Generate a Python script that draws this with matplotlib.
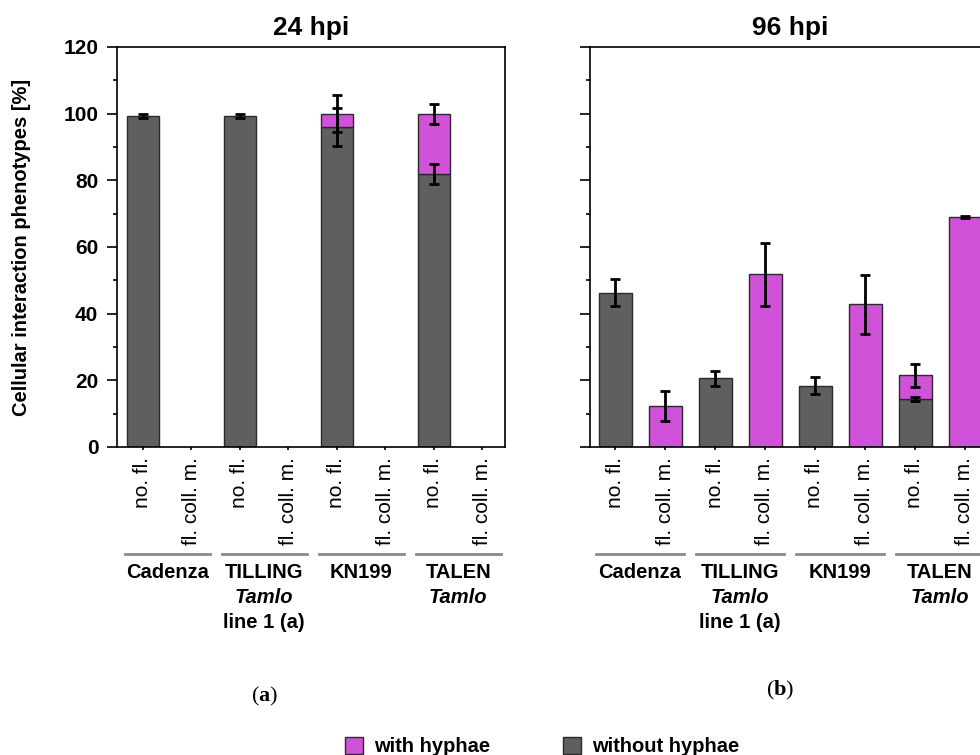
import matplotlib
matplotlib.use("Agg")
import matplotlib.pyplot as plt
from matplotlib.patches import Patch
from matplotlib.ticker import MultipleLocator
import numpy as np

# categories
groups = ['Cadenza', 'TILLING', 'KN199', 'TALEN']
group_sub = [[], ['Tamlo', 'line 1 (a)'], [], ['Tamlo']]
subs = ['no. fl.', 'fl. coll. m.']
tick_labels = subs * len(groups)

# 24 hpi (values in %)
without_24 = [99.3, 0, 99.3, 0, 96.0, 0, 82.0, 0]
with_24 = [0, 0, 0, 0, 4.0, 0, 18.0, 0]
err_without_24 = [0.5, 0, 0.5, 0, 5.8, 0, 3.0, 0]
err_with_24 = [0, 0, 0, 0, 5.6, 0, 3.0, 0]

# 96 hpi
without_96 = [46.3, 0, 20.6, 0, 18.4, 0, 14.3, 0]
with_96 = [0, 12.3, 0, 51.8, 0, 42.8, 7.2, 69.0]
err_without_96 = [4.0, 0, 2.3, 0, 2.5, 0, 0.6, 0]
err_with_96 = [0, 4.5, 0, 9.4, 0, 8.8, 3.5, 0.4]

PINK = '#d052d8'
GRAY = '#5f5f5f'
EDGE = '#2a2a2a'

plt.rcParams['font.family'] = ['Liberation Sans', 'DejaVu Sans']
plt.rcParams['mathtext.fontset'] = 'custom'
plt.rcParams['mathtext.rm'] = 'Liberation Serif'
plt.rcParams['mathtext.bf'] = 'Liberation Serif:bold'

W, H = 980, 755
fig = plt.figure(figsize=(W / 100, H / 100), dpi=100)
ax1 = fig.add_axes([117 / W, 1 - 447 / H, 388 / W, 400 / H])
ax2 = fig.add_axes([590 / W, 1 - 447 / H, 400 / W, 400 / H])


def draw_panel(ax, without, with_, err_wo, err_w, title, xlim):
    x = np.arange(len(tick_labels))
    wo = np.array(without)
    wi = np.array(with_)
    bw = 0.66
    m = wo > 0
    ax.bar(x[m], wo[m], bw, color=GRAY, edgecolor=EDGE, linewidth=1, zorder=2)
    m2 = wi > 0
    ax.bar(x[m2], wi[m2], bw, bottom=wo[m2], color=PINK, edgecolor=EDGE,
           linewidth=1, zorder=2)
    ekw = dict(fmt='none', ecolor='black', elinewidth=2, capsize=3.5,
               capthick=2, zorder=3)
    ax.errorbar(x[m], wo[m], yerr=np.array(err_wo)[m], **ekw)
    ax.errorbar(x[m2], (wo + wi)[m2], yerr=np.array(err_w)[m2], **ekw)

    ax.set_xlim(*xlim)
    ax.set_ylim(0, 120)
    ax.yaxis.set_major_locator(MultipleLocator(20))
    ax.yaxis.set_minor_locator(MultipleLocator(10))
    ax.tick_params(axis='y', which='major', direction='out', length=7.5,
                   width=1.2, pad=6, labelsize=15)
    ax.tick_params(axis='y', which='minor', direction='out', length=3,
                   width=1.2)
    for lab in ax.get_yticklabels():
        lab.set_fontweight('bold')
    ax.set_xticks(x)
    ax.set_xticklabels(tick_labels, rotation=90, fontsize=15, va='top')
    ax.tick_params(axis='x', direction='out', length=2.5, width=1.2, pad=4.5)
    for s in ax.spines.values():
        s.set_linewidth(1.2)
    ax.set_title(title, fontsize=19, fontweight='bold', pad=9)

    tr = ax.get_xaxis_transform()
    for g, name in enumerate(groups):
        c = 2 * g + 0.5
        ax.plot([c - 0.88, c + 0.88], [-0.2675, -0.2675], color='#8a8a8a',
                lw=2, transform=tr, clip_on=False)
        ax.text(c, -0.29, name, transform=tr, ha='center', va='top',
                fontsize=14.5, fontweight='bold')
        for k, line in enumerate(group_sub[g]):
            style = 'italic' if line == 'Tamlo' else 'normal'
            ax.text(c, -0.29 - 0.0625 * (k + 1), line, transform=tr,
                    ha='center', va='top', fontsize=14.5, fontweight='bold',
                    fontstyle=style)


draw_panel(ax1, without_24, with_24, err_without_24, err_with_24, '24 hpi',
           (-0.536, 7.464))
draw_panel(ax2, without_96, with_96, err_without_96, err_with_96, '96 hpi',
           (-0.5, 7.5))
ax2.set_yticklabels([])

fig.text(22 / W, 1 - 247 / H, 'Cellular interaction phenotypes [%]',
         rotation=90, ha='center', va='center', fontsize=14.5,
         fontweight='bold')

fig.text(265 / W, 1 - 696 / H, r'($\mathbf{a}$)', ha='center', va='center',
         fontsize=16, family='Liberation Serif')
fig.text(780 / W, 1 - 690 / H, r'($\mathbf{b}$)', ha='center', va='center',
         fontsize=16, family='Liberation Serif')

handles = [Patch(facecolor=PINK, edgecolor=EDGE, label='with hyphae'),
           Patch(facecolor=GRAY, edgecolor=EDGE, label='without hyphae')]
leg = fig.legend(handles=handles, loc='upper left', ncol=2, frameon=False,
                 bbox_to_anchor=(331 / W, 1 - 723 / H),
                 prop={'size': 14.5, 'weight': 'bold'},
                 handlelength=0.9, handleheight=0.9, handletextpad=0.55,
                 columnspacing=3.6, borderpad=0.2)

fig.savefig('out.png', dpi=100)
